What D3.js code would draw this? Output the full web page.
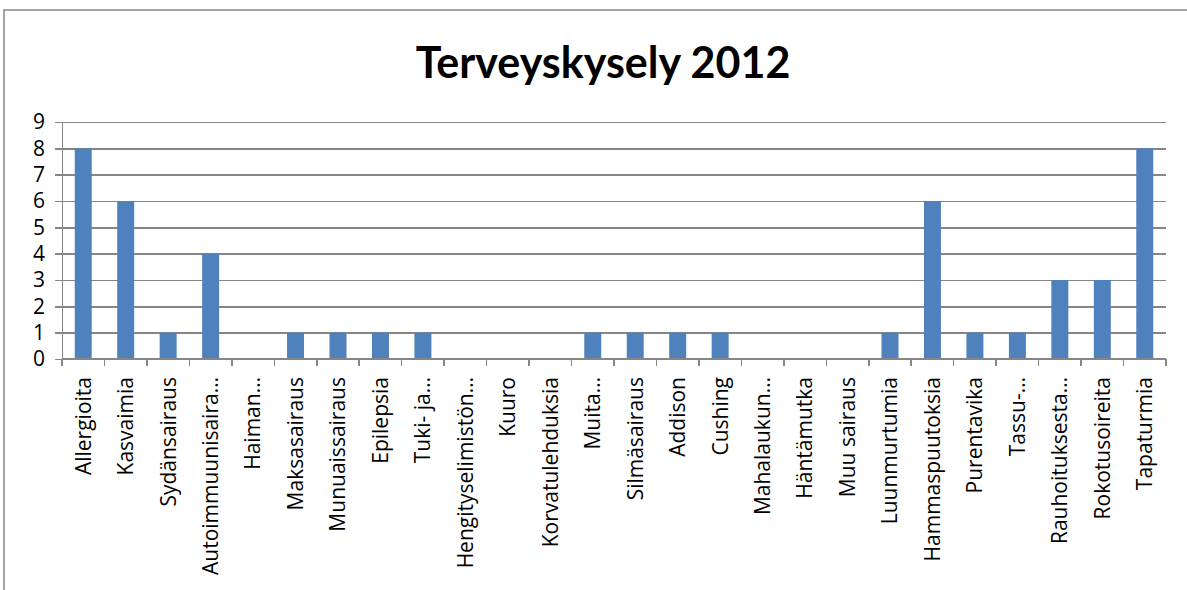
<!DOCTYPE html>
<html lang="fi">

<head>
    <meta charset="UTF-8">
    <title>Terveyskysely 2012</title>
    <style>
        body {
            margin: 0;
            background: #fff;
        }

        .title {
            font-family: Lato, "Open Sans", sans-serif;
            font-weight: bold;
            font-size: 43px;
        }

        .axis text {
            font-family: "Open Sans", sans-serif;
            fill: #000;
        }

        .axis path,
        .axis line {
            stroke: #868686;
            stroke-width: 1.5px;
            shape-rendering: crispEdges;
        }
    </style>
</head>

<body>
    <svg width="1187" height="590"></svg>

    <script src="https://d3js.org/d3.v7.min.js"></script>
    <script>
        const categories = ["Allergioita", "Kasvaimia", "Sydänsairaus", "Autoimmuunisaira…", "Haiman…",
            "Maksasairaus", "Munuaissairaus", "Epilepsia", "Tuki- ja…", "Hengityselimistön…", "Kuuro",
            "Korvatulehduksia", "Muita…", "Silmäsairaus", "Addison", "Cushing", "Mahalaukun…",
            "Häntämutka", "Muu sairaus", "Luunmurtumia", "Hammaspuutoksia", "Purentavika", "Tassu-…",
            "Rauhoituksesta…", "Rokotusoireita", "Tapaturmia"];
        const values = [8, 6, 1, 4, 0, 1, 1, 1, 1, 0, 0, 0, 1, 1, 1, 1, 0, 0, 0, 1, 6, 1, 1, 3, 3, 8];
        const yTicks = [0, 1, 2, 3, 4, 5, 6, 7, 8, 9];
        const title = "Terveyskysely 2012";

        const margin = { top: 122, right: 21, bottom: 231, left: 62 },
            width = 1187 - margin.left - margin.right,
            height = 590 - margin.top - margin.bottom;

        const root = d3.select("svg");

        // chart frame (cut off at right and bottom like the original)
        root.append("rect")
            .attr("x", 4)
            .attr("y", 10)
            .attr("width", 1200)
            .attr("height", 600)
            .attr("fill", "none")
            .attr("stroke", "#868686")
            .attr("stroke-width", 1.5);

        root.append("text")
            .attr("class", "title")
            .attr("x", 603)
            .attr("y", 78)
            .attr("text-anchor", "middle")
            .text(title);

        const svg = root.append("g")
            .attr("transform", `translate(${margin.left},${margin.top})`);

        const x = d3.scaleBand()
            .domain(categories)
            .range([0, width])
            .paddingInner(0.6)
            .paddingOuter(0.3);

        const y = d3.scaleLinear()
            .domain([0, 9])
            .range([height, 0]);

        // gridlines
        svg.append("g")
            .attr("class", "axis")
            .call(d3.axisLeft(y).tickValues(yTicks).tickSize(-width).tickFormat(""))
            .call(g => g.select(".domain").remove());

        // y axis
        svg.append("g")
            .attr("class", "axis y")
            .call(d3.axisLeft(y).tickValues(yTicks).tickSize(7).tickPadding(10))
            .selectAll("text")
            .style("font-size", "21px");

        // bars
        svg.selectAll(".bar")
            .data(values)
            .enter().append("rect")
            .attr("class", "bar")
            .attr("x", (d, i) => x(categories[i]))
            .attr("y", d => y(d))
            .attr("width", x.bandwidth())
            .attr("height", d => height - y(d))
            .attr("fill", "#4f81bd");

        // x axis: ticks at band boundaries
        const xa = svg.append("g")
            .attr("class", "axis x")
            .attr("transform", `translate(0,${height})`);

        xa.append("line")
            .attr("x1", 0)
            .attr("x2", width)
            .attr("y1", 0)
            .attr("y2", 0);

        xa.selectAll(".tk")
            .data(d3.range(categories.length + 1))
            .enter().append("line")
            .attr("class", "tk")
            .attr("x1", i => i * width / categories.length)
            .attr("x2", i => i * width / categories.length)
            .attr("y1", 0)
            .attr("y2", 7);

        xa.selectAll(".lbl")
            .data(categories)
            .enter().append("text")
            .attr("class", "lbl")
            .attr("transform", d => `translate(${x(d) + x.bandwidth() / 2},18) rotate(-90)`)
            .attr("dy", "0.35em")
            .style("text-anchor", "end")
            .style("font-size", "21px")
            .text(d => d);
    </script>
</body>

</html>
